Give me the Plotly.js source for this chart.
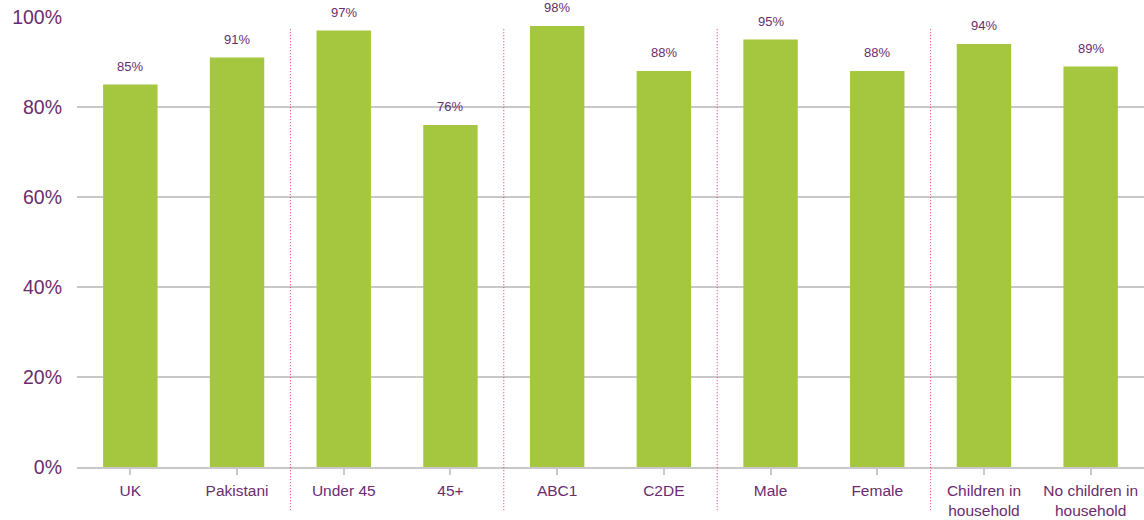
<!DOCTYPE html>
<html><head><meta charset="utf-8">
<script src="https://cdn.plot.ly/plotly-3.0.1.min.js"></script>
<style>html,body{margin:0;padding:0;background:#fff}#chart{width:1144px;height:520px}</style>
</head><body><div id="chart"></div>
<script>
var categories = ["UK","Pakistani","Under 45","45+","ABC1","C2DE","Male","Female","Children in<br>household","No children in<br>household"];
var values = [85,91,97,76,98,88,95,88,94,89];
var valueLabels = ["85%","91%","97%","76%","98%","88%","95%","88%","94%","89%"];
var groupDividers = [1.5,3.5,5.5,7.5];
var yTicks = [0,20,40,60,80,100];
var yTickLabels = ["0%","20%","40%","60%","80%","100%"];

var purple = "#6a2c6e";
var trace = {
  type: "bar",
  x: categories.map(function(c,i){return i;}),
  y: values,
  marker: {color: "#a5c63f"},
  width: 0.51,
  hoverinfo: "none"
};
var annotations = values.map(function(v,i){
  return {x:i, y:v, xref:"x", yref:"y", text:valueLabels[i], showarrow:false,
    yanchor:"bottom", yshift:9, font:{family:"Liberation Sans, Arial, sans-serif", size:13, color:purple}};
});
var shapes = groupDividers.map(function(d){
  return {type:"line", xref:"x", yref:"paper", x0:d, x1:d, y0:-0.096, y1:0.976,
    line:{color:"#e0345c", width:1, dash:"1px,2px"}};
});
var layout = {
  width:1144, height:520,
  margin:{l:77, r:0, t:17, b:53},
  paper_bgcolor:"#fff", plot_bgcolor:"#fff",
  showlegend:false,
  bargap:0.49,
  font:{family:"Liberation Sans, Arial, sans-serif", color:purple},
  xaxis:{
    tickmode:"array", tickvals:categories.map(function(c,i){return i;}), ticktext:categories,
    range:[-0.5, 9.5], tickson:"boundaries", ticks:"outside", ticklen:6, tickwidth:2, tickcolor:"#c8c8c8",
    showline:true, linecolor:"#c8c8c8", linewidth:2, showgrid:false, zeroline:false,
    tickfont:{size:15.5, color:purple}, ticklabelstandoff:2, fixedrange:true
  },
  yaxis:{
    range:[0,100], tickmode:"array", tickvals:yTicks, ticktext:yTickLabels,
    showgrid:true, gridcolor:"#c8c8c8", gridwidth:2, zeroline:false, showline:false,
    ticks:"", tickfont:{size:19.5, color:purple}, ticklabelstandoff:14, fixedrange:true
  },
  annotations: annotations,
  shapes: shapes
};
Plotly.newPlot("chart",[trace],layout,{displayModeBar:false, staticPlot:true});
</script></body></html>
